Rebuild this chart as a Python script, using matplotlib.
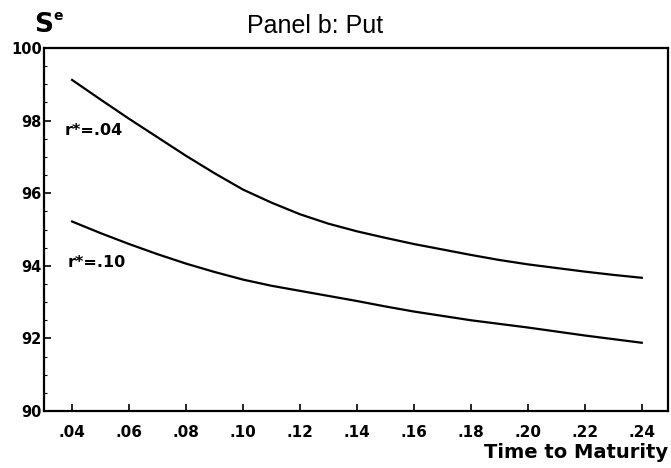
import matplotlib
matplotlib.use("Agg")
import matplotlib.pyplot as plt
from matplotlib.ticker import FixedLocator

# Data
maturity = [0.04, 0.05, 0.06, 0.07, 0.08, 0.09, 0.10, 0.11, 0.12, 0.13, 0.14,
            0.15, 0.16, 0.17, 0.18, 0.19, 0.20, 0.21, 0.22, 0.23, 0.24]
put_r04 = [99.12, 98.58, 98.05, 97.54, 97.03, 96.55, 96.10, 95.74, 95.42, 95.16, 94.95,
           94.77, 94.60, 94.45, 94.30, 94.16, 94.04, 93.94, 93.84, 93.75, 93.67]
put_r10 = [95.22, 94.90, 94.60, 94.32, 94.06, 93.83, 93.62, 93.45, 93.31, 93.17, 93.03,
           92.88, 92.74, 92.62, 92.50, 92.40, 92.30, 92.19, 92.08, 91.98, 91.88]
xtick_vals = [0.04, 0.06, 0.08, 0.10, 0.12, 0.14, 0.16, 0.18, 0.20, 0.22, 0.24]
xtick_labels = [".04", ".06", ".08", ".10", ".12", ".14", ".16", ".18", ".20", ".22", ".24"]
ytick_vals = [90, 92, 94, 96, 98, 100]
ytick_labels = ["90", "92", "94", "96", "98", "100"]
curve_labels = ["r*=.04", "r*=.10"]

plt.rcParams['font.family'] = ['DejaVu Sans']

fig = plt.figure(figsize=(6.71, 4.68), dpi=100)
ax = fig.add_axes([0.0663, 0.1218, 0.9292, 0.7756])

ax.plot(maturity, put_r04, color='black', lw=1.6)
ax.plot(maturity, put_r10, color='black', lw=1.6)

ax.set_xlim(0.0303, 0.2492)
ax.set_ylim(90, 100)

ax.set_xticks(xtick_vals)
ax.set_xticklabels(xtick_labels, fontsize=11, fontweight='bold')
ax.set_yticks(ytick_vals)
ax.set_yticklabels(ytick_labels, fontsize=10.5, fontweight='bold')
ax.yaxis.set_minor_locator(FixedLocator([v / 2 for v in range(180, 201)]))

ax.tick_params(axis='x', direction='in', length=5, width=1.2, pad=10)
ax.tick_params(axis='y', which='major', direction='in', length=5, width=1.2, pad=2)
ax.tick_params(axis='y', which='minor', direction='in', length=2, width=0.8)

for s in ax.spines.values():
    s.set_linewidth(1.6)

ax.text(0.0375, 97.72, curve_labels[0], fontsize=11.5, fontweight='bold', va='center', ha='left')
ax.text(0.0384, 94.09, curve_labels[1], fontsize=11.5, fontweight='bold', va='center', ha='left')

fig.text(315.5 / 671, 1 - 26 / 468, "Panel b: Put", fontsize=18, family=['Liberation Sans', 'DejaVu Sans'],
         ha='center', va='center')
fig.text(668 / 671, 1 - 452 / 468, "Time to Maturity", fontsize=14, fontweight='bold', ha='right', va='center')
fig.text(44 / 671, 1 - 25 / 468, "S", fontsize=19, fontweight='bold', ha='center', va='center')
fig.text(58.5 / 671, 1 - 16 / 468, "e", fontsize=10, fontweight='bold', ha='center', va='center')

fig.savefig("out.png", dpi=100)
